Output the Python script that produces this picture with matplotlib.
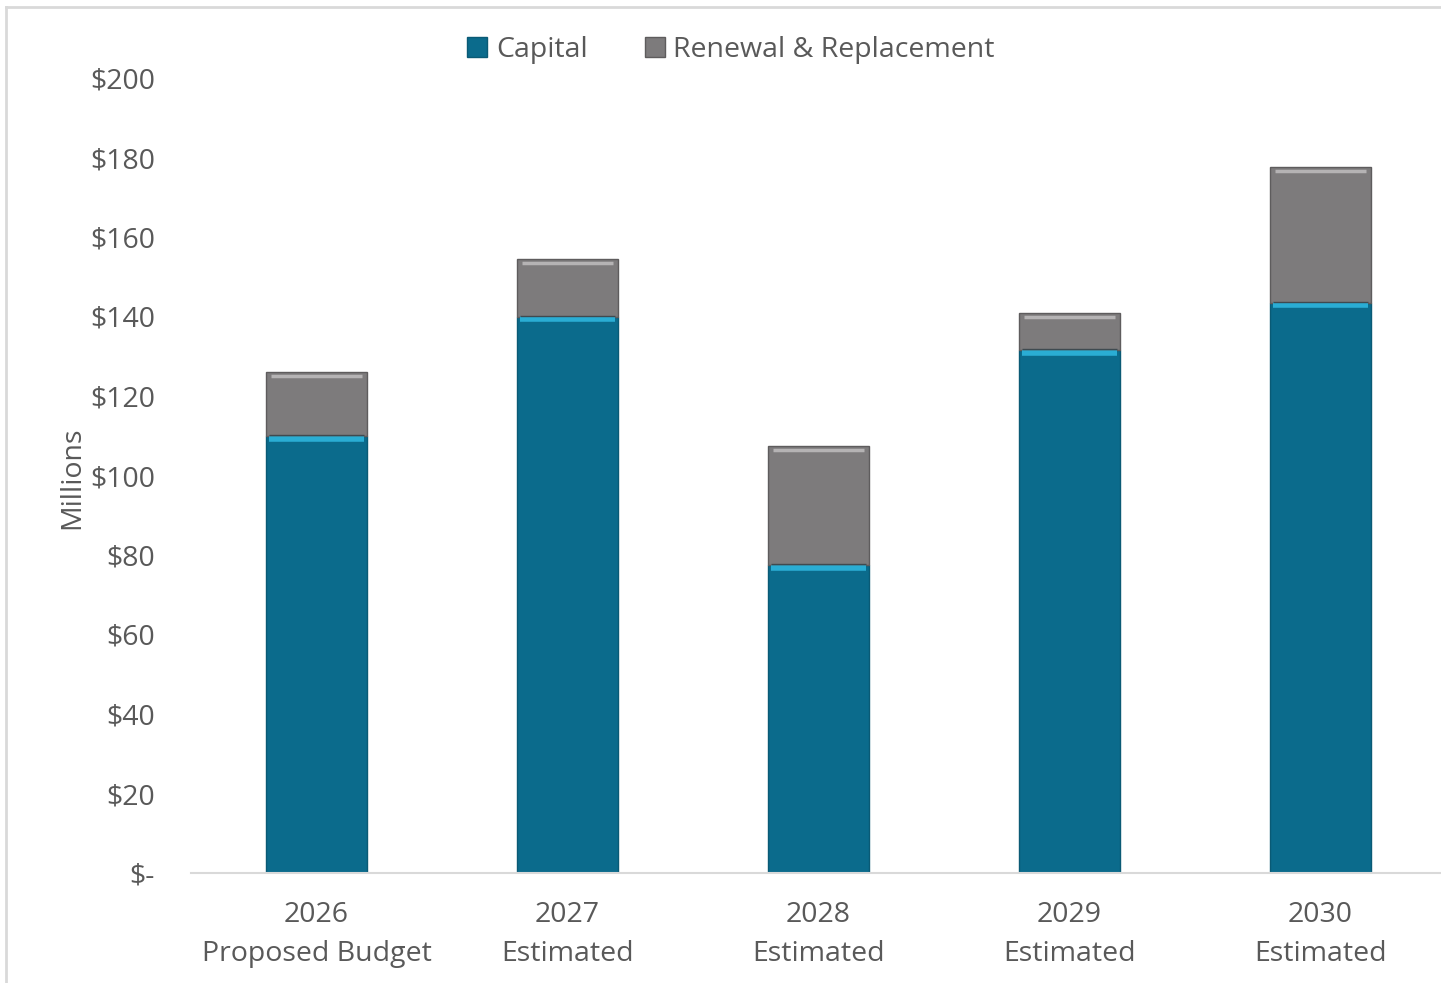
import matplotlib
matplotlib.use("Agg")
import matplotlib.pyplot as plt
from matplotlib.lines import Line2D
from matplotlib.patches import Patch
import numpy as np

years = ["2026", "2027", "2028", "2029", "2030"]
stages = ["Proposed Budget", "Estimated", "Estimated", "Estimated", "Estimated"]
capital = [110.0, 140.0, 77.5, 131.5, 143.5]
renewal = [16.0, 14.5, 29.8, 9.4, 34.0]
yticks = [0, 20, 40, 60, 80, 100, 120, 140, 160, 180, 200]
ytick_labels = ["$-", "$20", "$40", "$60", "$80", "$100", "$120", "$140",
                "$160", "$180", "$200"]

plt.rcParams["font.family"] = ["Open Sans", "DejaVu Sans"]
text_color = "#595959"
cap_color = "#0B6B8C"
cap_edge = "#0A5A75"
cap_top = "#2AADD4"
ren_color = "#7D7B7C"
ren_edge = "#5E5C5D"
ren_top = "#B5B3B4"
fs = 20.5

W, H = 1441, 983
fig = plt.figure(figsize=(W / 100, H / 100), dpi=100)
ax = fig.add_axes([191 / W, 1 - 873 / H, (W - 191) / W, (873 - 78) / H])

x = np.arange(len(years))
width = 0.4
ax.bar(x, capital, width, color=cap_color, edgecolor=cap_edge, linewidth=1.0,
       label="Capital", zorder=2)
ax.bar(x, renewal, width, bottom=capital, color=ren_color, edgecolor=ren_edge,
       linewidth=1.0, label="Renewal & Replacement", zorder=2)

# bevel highlights along the top of each segment
totals = np.array(capital) + np.array(renewal)
for xi, c, t in zip(x, capital, totals):
    ax.plot([xi - width / 2 + 0.01, xi + width / 2 - 0.01], [c - 0.7, c - 0.7],
            color=cap_top, linewidth=4, solid_capstyle="butt", zorder=3)
    ax.plot([xi - width / 2 + 0.01, xi + width / 2 - 0.01], [c + 0.2, c + 0.2],
            color="#3F4A50", linewidth=1.0, solid_capstyle="butt", zorder=3)
    ax.plot([xi - width / 2 + 0.02, xi + width / 2 - 0.02], [t - 1.0, t - 1.0],
            color=ren_top, linewidth=2.5, solid_capstyle="butt", zorder=3)

ax.set_xlim(-0.5, -0.5 + (W - 191) / 251)
ax.set_ylim(0, 200)
ax.set_yticks(yticks)
ax.set_yticklabels(ytick_labels)
ax.set_xticks(x)
ax.set_xticklabels([f"{y}\n{s}" for y, s in zip(years, stages)],
                   linespacing=1.55)

for s in ["top", "right", "left"]:
    ax.spines[s].set_visible(False)
ax.spines["bottom"].set_color("#D9D9D9")
ax.spines["bottom"].set_linewidth(1.5)
ax.tick_params(axis="both", length=0, labelsize=fs, colors=text_color)
ax.tick_params(axis="y", pad=26)
ax.tick_params(axis="x", pad=20)
for lbl in ax.get_yticklabels():
    lbl.set_horizontalalignment("right")

fig.text(72 / W, 1 - 478 / H, "Millions", rotation=90, ha="center", va="center",
         fontsize=fs, color=text_color)

handles = [Patch(facecolor=cap_color, edgecolor=cap_edge),
           Patch(facecolor=ren_color, edgecolor=ren_edge)]
fig.legend(handles, ["Capital", "Renewal & Replacement"], loc="center",
           bbox_to_anchor=(731 / W, 1 - 50 / H), ncol=2, frameon=False,
           fontsize=fs, labelcolor=text_color, handlelength=0.7,
           handleheight=0.7, handletextpad=0.3, columnspacing=2.0)

# light frame on the chart area
fig.add_artist(Line2D([6 / W, 6 / W], [0, 1 - 7 / H], color="#D9D9D9",
                      linewidth=2, transform=fig.transFigure))
fig.add_artist(Line2D([6 / W, 1], [1 - 7 / H, 1 - 7 / H], color="#D9D9D9",
                      linewidth=2, transform=fig.transFigure))

fig.savefig("out.png", dpi=100)
